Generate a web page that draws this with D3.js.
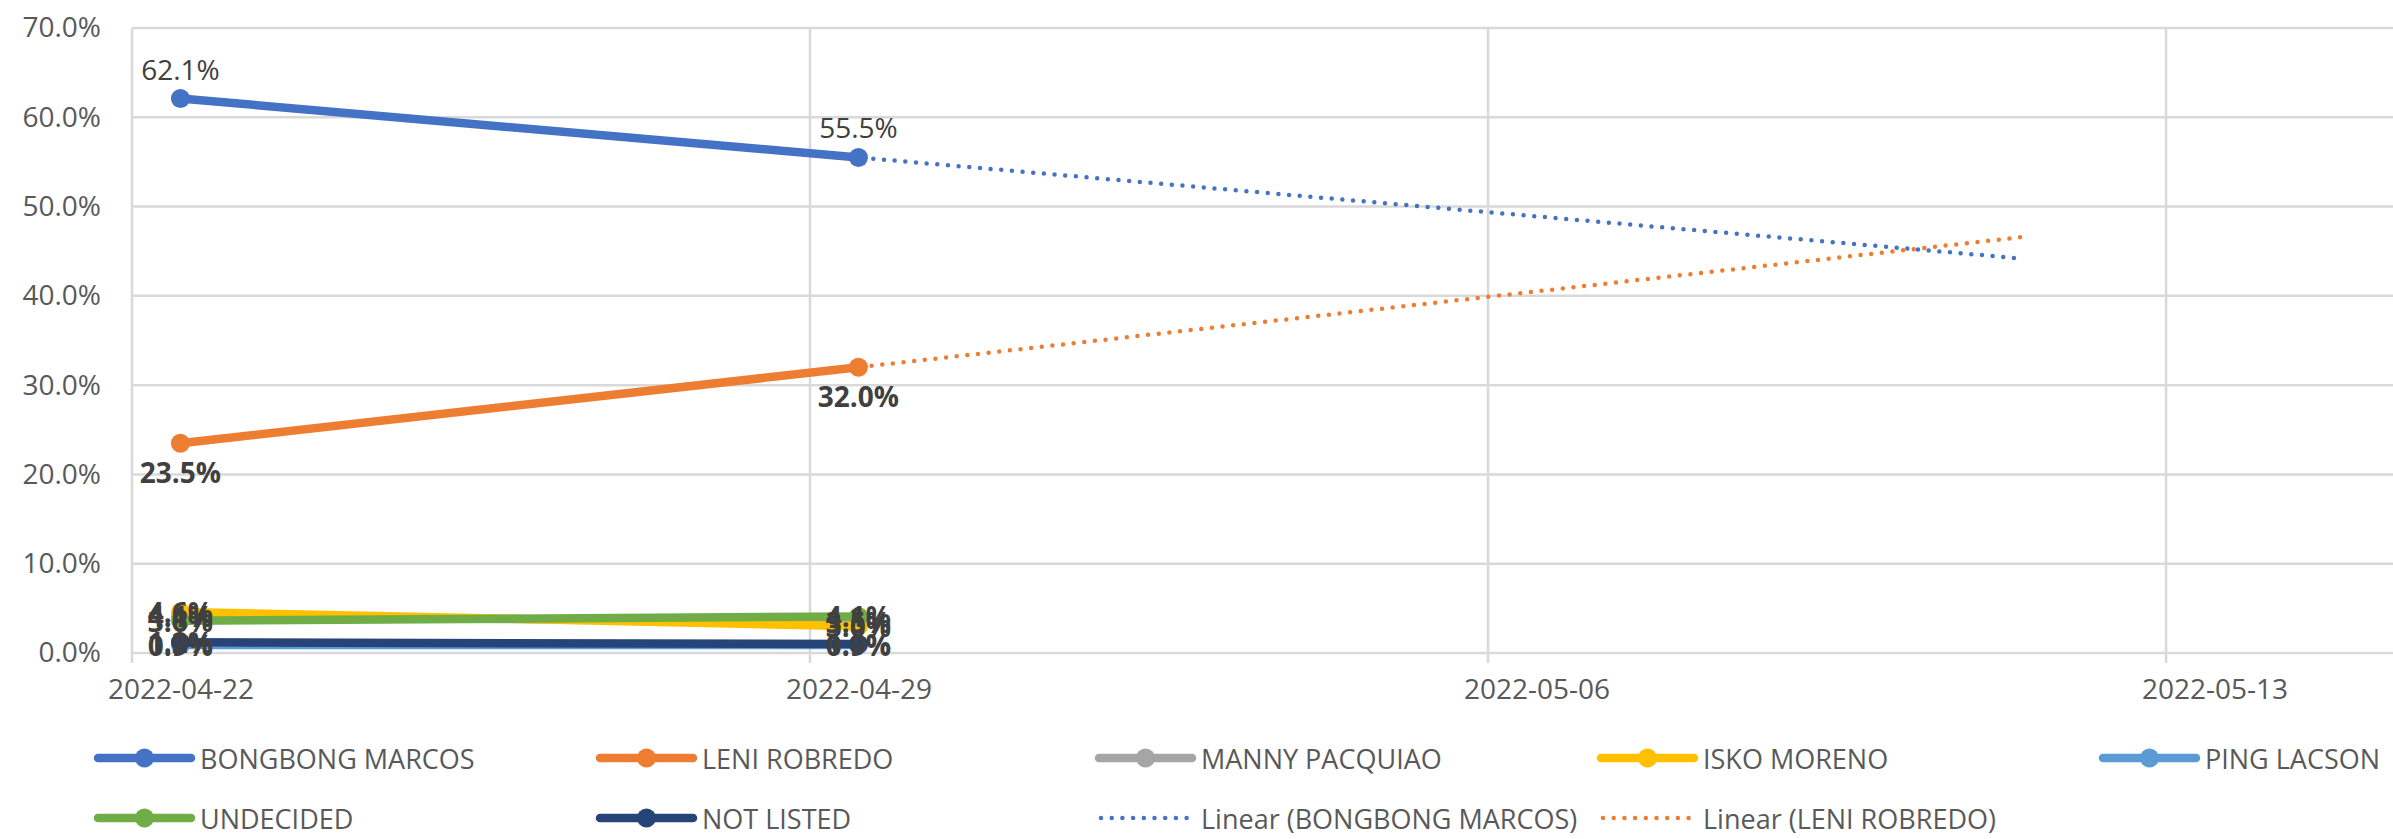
<!DOCTYPE html>
<html>
<head>
<meta charset="utf-8">
<script src="https://cdn.jsdelivr.net/npm/d3@7"></script>
<style>
  html, body { margin: 0; padding: 0; background: #fff; }
  svg { display: block; font-family: "Open Sans", sans-serif; }
</style>
</head>
<body>
<svg id="chart" width="2393" height="839"></svg>
<script>
// ---- data ----
const dates = ["2022-04-22", "2022-04-29"];
const seriesNames = ["BONGBONG MARCOS", "LENI ROBREDO", "MANNY PACQUIAO", "ISKO MORENO", "PING LACSON", "UNDECIDED", "NOT LISTED"];
const marcos    = [0.621, 0.555];
const robredo   = [0.235, 0.320];
const pacquiao  = [0.041, 0.035];
const moreno    = [0.046, 0.030];
const lacson    = [0.009, 0.009];
const undecided = [0.036, 0.041];
const notListed = [0.012, 0.010];
const xTickLabels = ["2022-04-22", "2022-04-29", "2022-05-06", "2022-05-13"];
const yTicks = [0, 0.1, 0.2, 0.3, 0.4, 0.5, 0.6, 0.7];
const trendSeries = ["BONGBONG MARCOS", "LENI ROBREDO"];
const forecastForwardDays = 12;

const seriesValues = [marcos, robredo, pacquiao, moreno, lacson, undecided, notListed];
const colors = ["#4472C4", "#ED7D31", "#A5A5A5", "#FFC000", "#5B9BD5", "#70AD47", "#264478"];
const labelPos = ["above", "below", "center", "center", "center", "center", "center"];
const labelBold = [false, true, true, true, true, true, true];

// ---- layout ----
const svg = d3.select("#chart");
const W = 2393;
const plotLeft = 132, plotTop = 28, plotBottom = 653;
const dayPx = 96.86;
const parse = d3.utcParse("%Y-%m-%d");
const start = parse(dates[0]);
const endDomain = d3.utcDay.offset(start, 24);

const x = d3.scaleUtc().domain([start, endDomain]).range([plotLeft, plotLeft + 24 * dayPx]);
const y = d3.scaleLinear().domain([0, 0.7]).range([plotBottom, plotTop]);
const mid = d => d3.utcHour.offset(parse(d), 12);

const gridColor = "#d9d9d9";

// horizontal gridlines
svg.append("g").selectAll("line").data(yTicks).join("line")
  .attr("x1", plotLeft).attr("x2", W)
  .attr("y1", d => y(d)).attr("y2", d => y(d))
  .attr("stroke", gridColor).attr("stroke-width", 2.5);

// vertical gridlines + tick marks
const xTickDates = xTickLabels.map(parse);
svg.append("g").selectAll("line").data(xTickDates).join("line")
  .attr("x1", d => x(d)).attr("x2", d => x(d))
  .attr("y1", plotTop).attr("y2", plotBottom + 10)
  .attr("stroke", gridColor).attr("stroke-width", 2.5);

// y axis labels
const yAxis = d3.axisLeft(y).tickValues(yTicks).tickFormat(d3.format(".1%")).tickSize(0).tickPadding(0);
const gy = svg.append("g").attr("transform", "translate(101,0)").call(yAxis);
gy.select(".domain").remove();
gy.selectAll("text").attr("fill", "#595959").style("font-size", "28px").style("font-family", "Open Sans");

// x axis labels (centered in the day slot)
const xAxis = d3.axisBottom(x).tickValues(xTickLabels.map(mid)).tickFormat(d3.utcFormat("%Y-%m-%d")).tickSize(0).tickPadding(0);
const gx = svg.append("g").attr("transform", "translate(0,679)").call(xAxis);
gx.select(".domain").remove();
gx.selectAll("text").attr("fill", "#595959").style("font-size", "28px").style("font-family", "Open Sans");

// trendlines (linear regression, forecast forward)
const line = d3.line().x(d => x(d[0])).y(d => y(d[1]));
trendSeries.forEach(name => {
  const i = seriesNames.indexOf(name);
  const vals = seriesValues[i];
  const xs = dates.map(d => (mid(d) - mid(dates[0])) / 864e5);
  const n = xs.length;
  const mx = d3.mean(xs), my = d3.mean(vals);
  const slope = d3.sum(xs.map((v, k) => (v - mx) * (vals[k] - my))) / d3.sum(xs.map(v => (v - mx) ** 2));
  const icpt = my - slope * mx;
  const x0 = xs[0], x1 = xs[n - 1] + forecastForwardDays;
  const pts = [[d3.utcHour.offset(mid(dates[0]), x0 * 24), icpt + slope * x0],
               [d3.utcHour.offset(mid(dates[0]), x1 * 24), icpt + slope * x1]];
  svg.append("path").attr("d", line(pts))
    .attr("fill", "none").attr("stroke", colors[i]).attr("stroke-width", 4.5)
    .attr("stroke-linecap", "round").attr("stroke-dasharray", "0 10.7");
});

// series lines and markers
seriesValues.forEach((vals, i) => {
  const pts = vals.map((v, k) => [mid(dates[k]), v]);
  svg.append("path").attr("d", line(pts))
    .attr("fill", "none").attr("stroke", colors[i]).attr("stroke-width", 8.5)
    .attr("stroke-linecap", "round");
  svg.append("g").selectAll("circle").data(pts).join("circle")
    .attr("cx", d => x(d[0])).attr("cy", d => y(d[1])).attr("r", 9.5)
    .attr("fill", colors[i]);
});

// data labels
const fmt = d3.format(".1%");
seriesValues.forEach((vals, i) => {
  vals.forEach((v, k) => {
    const px = x(mid(dates[k])), py = y(v);
    let dy = 0;
    if (labelPos[i] === "above") dy = -30;
    if (labelPos[i] === "below") dy = 29;
    svg.append("text").attr("x", px).attr("y", py + dy)
      .attr("text-anchor", "middle").attr("dominant-baseline", "central")
      .attr("fill", "#404040").style("font-size", "28px")
      .style("font-weight", labelBold[i] ? "bold" : "normal")
      .text(fmt(v));
  });
});

// legend
const legendItems = seriesNames.map((n, i) => ({label: n, color: colors[i], trend: false}))
  .concat(trendSeries.map(n => ({label: "Linear (" + n + ")", color: colors[seriesNames.indexOf(n)], trend: true})));
const colX = [98, 600, 1099, 1601, 2103];
const rowY = [758, 818];
legendItems.forEach((it, idx) => {
  const cx = colX[idx % 5], cy = rowY[Math.floor(idx / 5)];
  const g = svg.append("g").attr("transform", `translate(${cx},${cy})`);
  if (it.trend) {
    g.append("line").attr("x1", 2).attr("x2", 92).attr("y1", 0).attr("y2", 0)
      .attr("stroke", it.color).attr("stroke-width", 4.5).attr("stroke-linecap", "round")
      .attr("stroke-dasharray", "0 10.7");
  } else {
    g.append("line").attr("x1", 0).attr("x2", 93).attr("y1", 0).attr("y2", 0)
      .attr("stroke", it.color).attr("stroke-width", 8.5).attr("stroke-linecap", "round");
    g.append("circle").attr("cx", 46.5).attr("cy", 0).attr("r", 9.5).attr("fill", it.color);
  }
  g.append("text").attr("x", 102).attr("y", 0).attr("dominant-baseline", "central")
    .attr("fill", "#595959").style("font-size", "27px").text(it.label);
});
</script>
</body>
</html>
